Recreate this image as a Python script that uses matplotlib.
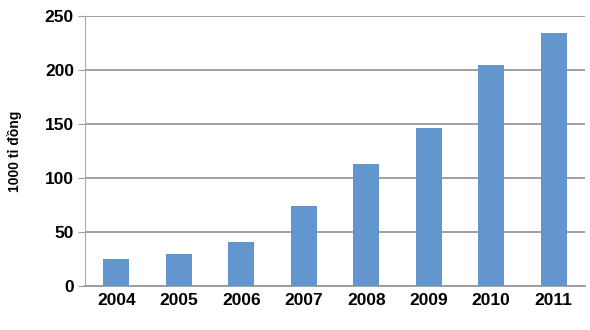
import matplotlib.pyplot as plt
import numpy as np

years = ["2004", "2005", "2006", "2007", "2008", "2009", "2010", "2011"]
values = [25, 30, 41, 74, 113, 146, 205, 234]
yticks = [0, 50, 100, 150, 200, 250]

plt.rcParams['font.family'] = ['Liberation Sans', 'DejaVu Sans']

fig = plt.figure(figsize=(5.9, 3.3), dpi=100)
ax = fig.add_axes([85/590, 1-286/330, 500/590, 270/330])

x = np.arange(len(years))
ax.bar(x, values, width=0.42, color="#6296cc", zorder=3)
ax.set_xlim(-0.5, len(years)-0.5)
ax.set_ylim(0, 250)
ax.set_yticks(yticks)
ax.set_xticks(x)
ax.set_xticklabels(years)
ax.grid(axis="y", color="#999999", linewidth=1.3, zorder=0)
for s in ["top", "right"]:
    ax.spines[s].set_visible(False)
ax.spines["left"].set_color("#aaaaaa")
ax.spines["bottom"].set_color("#999999")
ax.spines["bottom"].set_linewidth(1.3)
ax.tick_params(axis="y", length=5, color="#999999", labelsize=12.5, pad=3)
ax.tick_params(axis="x", length=0, labelsize=12.5, pad=5)
for t in ax.get_xticklabels() + ax.get_yticklabels():
    t.set_fontweight("bold")
ax.set_ylabel("1000 tỉ đồng", fontsize=10, fontweight="bold")
ax.yaxis.set_label_coords(-63/500, 0.5)

fig.savefig("out.png", dpi=100)
